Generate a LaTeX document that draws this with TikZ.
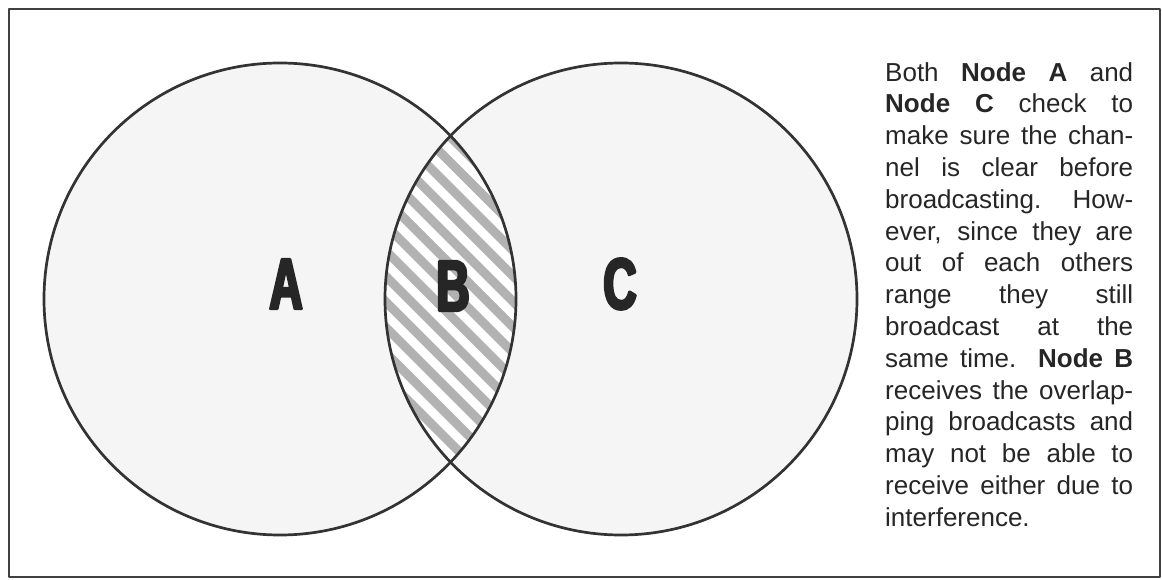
\documentclass[tikz,border=0pt]{standalone}
\usepackage{fontspec}
\setmainfont{Liberation Sans}
\newfontfamily\tagfont[FakeStretch=0.64, FakeBold=4]{Liberation Sans Bold}

\begin{document}
\begin{tikzpicture}[x=1pt, y=-1pt, line join=round, line cap=round,
	ring/.style={draw=black!80, line width=2.7pt},
	letter/.style={font=\tagfont\fontsize{72}{72}\selectfont, text=black!85, inner sep=0pt},
	note/.style={text width=248pt, align=justify, inner sep=0pt, text=black!85, font=\fontsize{26}{31.8}\selectfont}]
	\useasboundingbox (0, 0) rectangle (1162, 580);
	\fill[white] (0, 0) rectangle (1162, 580);
	\coordinate (ca) at (280, 299);
	\coordinate (cc) at (621, 299);
	\fill[gray!8] (ca) circle (236);
	\fill[gray!8] (cc) circle (236);
	\begin{scope}
		\clip (ca) circle (236);
		\clip (cc) circle (236);
		\fill[white] (370, 120) rectangle (540, 480);
		\foreach \c in {-20, 5.5, ..., 480} \draw[line width=9pt, gray!60, line cap=butt] (370, \c) -- (540, \c+170);
	\end{scope}
	\draw[ring] (ca) circle (236);
	\draw[ring] (cc) circle (236);
	\node[letter] (nodeA) at (286, 284) {A};
	\node[letter] (nodeB) at (453, 286) {B};
	\node[letter] (nodeC) at (620, 284) {C};
	\node[note, anchor=north west] (caption) at (885, 62) {Both \textbf{Node A} and\linebreak
		\textbf{Node C} check to\linebreak
		make sure the chan-\linebreak
		nel is clear before\linebreak
		broadcasting. How-\linebreak
		ever, since they are\linebreak
		out of each others\linebreak
		range they still\linebreak
		broadcast at the\linebreak
		same time. \textbf{Node B}\linebreak
		receives the overlap-\linebreak
		ping broadcasts and\linebreak
		may not be able to\linebreak
		receive either due to\linebreak
		interference.};
	\draw[line width=2pt, black!75] (9, 9) rectangle (1160, 577);
\end{tikzpicture}
\end{document}
